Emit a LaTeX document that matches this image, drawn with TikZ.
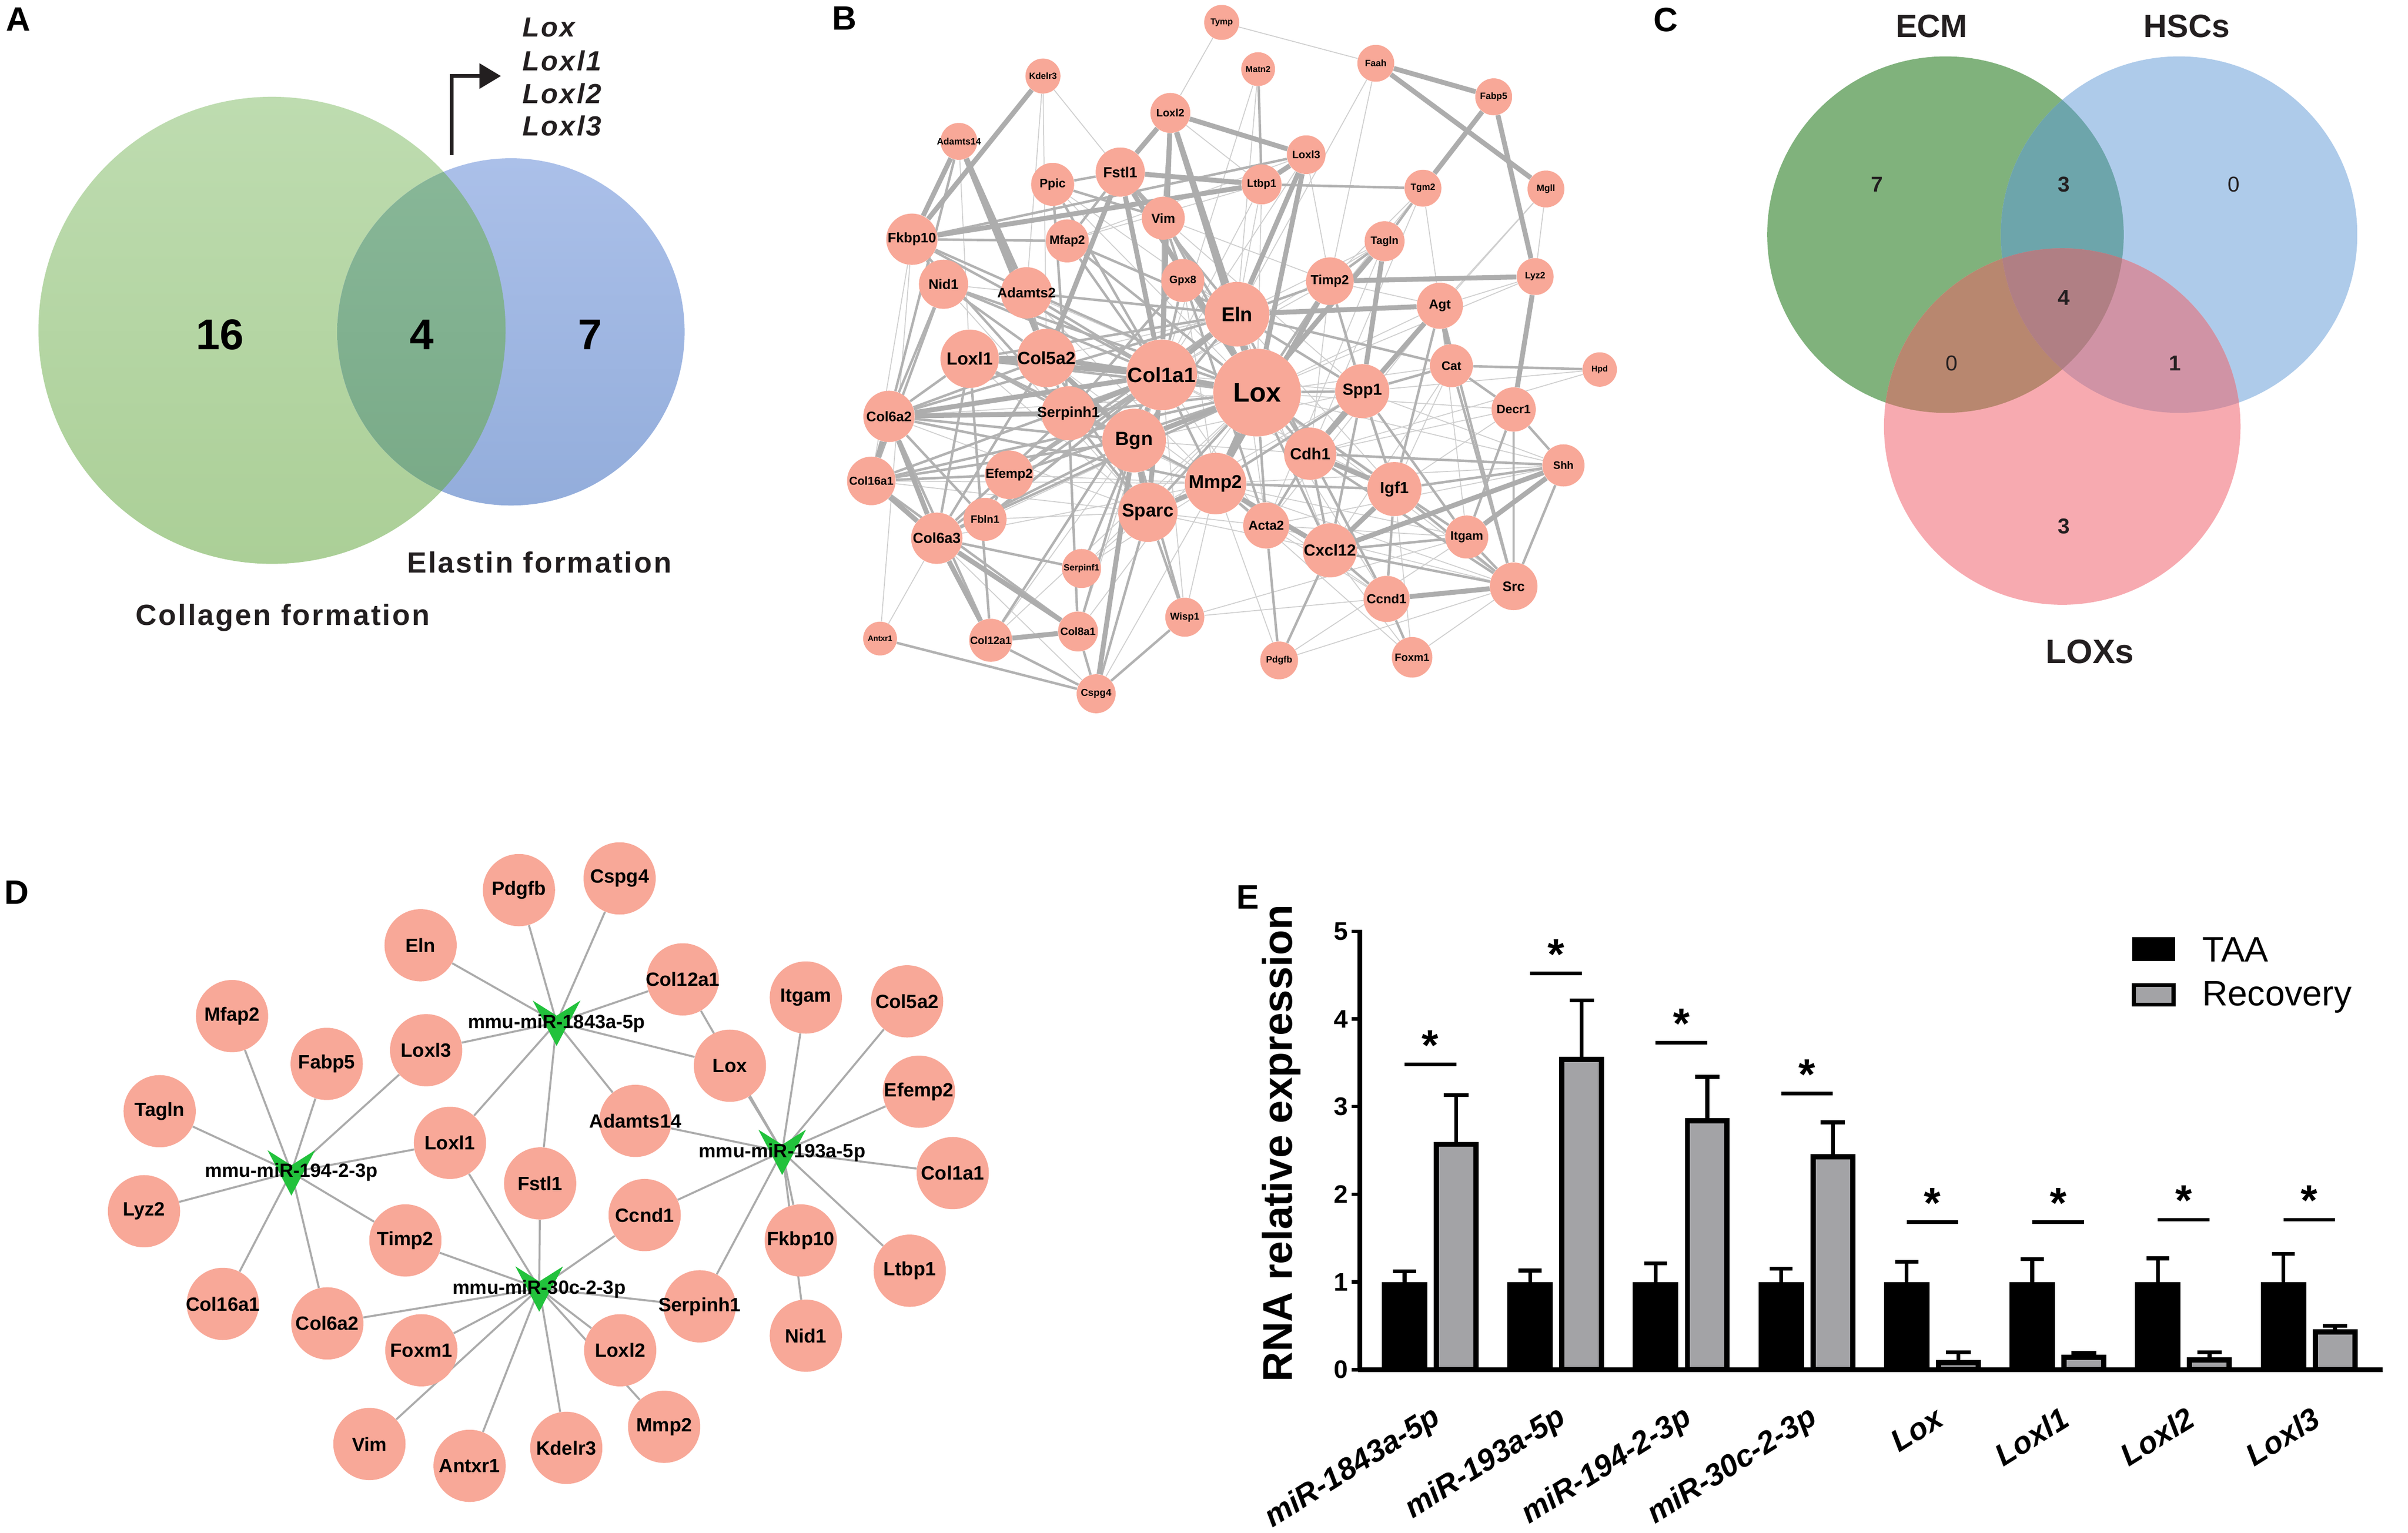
\documentclass[tikz,border=0pt]{standalone}
\usepackage{fontspec}
\setmainfont{Liberation Sans}
\newfontfamily\spacedsans[LetterSpace=6]{Liberation Sans}
\usetikzlibrary{arrows.meta,calc}
\pgfdeclarelayer{back}
\pgfdeclarelayer{bg}
\pgfsetlayers{back,bg,main}
\definecolor{nodefill}{HTML}{F8A898}
\definecolor{hubgreen}{HTML}{22C23C}
\definecolor{dline}{HTML}{ABABAB}
\definecolor{recgray}{HTML}{A3A3A6}
\definecolor{aGreenT}{HTML}{BEDCB0}
\definecolor{aGreenB}{HTML}{ABCF97}
\definecolor{aBlueT}{HTML}{ABC0E9}
\definecolor{aBlueB}{HTML}{93ADDB}
\definecolor{aOvT}{HTML}{88B798}
\definecolor{aOvB}{HTML}{79AA87}
\definecolor{arrowdark}{HTML}{231F20}
\definecolor{cGreen}{HTML}{80B27C}
\definecolor{cBlue}{HTML}{AECBEA}
\definecolor{cRed}{HTML}{F7AAB0}
\definecolor{cGB}{HTML}{6DA5AB}
\definecolor{cGR}{HTML}{B8876F}
\definecolor{cBR}{HTML}{D093A5}
\definecolor{cAll}{HTML}{B07F84}
\definecolor{ctext}{HTML}{231F20}
\tikzset{
  panellab/.style={font=\bfseries\fontsize{22}{22}\selectfont},
  bnode/.style={circle, fill=nodefill, inner sep=0pt, font=\bfseries},
  dnode/.style={circle, fill=nodefill, minimum size=47pt, inner sep=0pt, font=\bfseries\fontsize{12.5}{12.5}\selectfont},
  hublab/.style={font=\bfseries\fontsize{12.5}{12.5}\selectfont, inner sep=0pt},
  dedge/.style={draw=dline, line width=1.3pt},
  ethin/.style={draw=gray!38, line width=0.6pt},
  emed/.style={draw=gray!60, line width=1.6pt},
  ethick/.style={draw=gray!64, line width=3.2pt},
  ebar/.style={line width=2.5pt, draw=black},
  ast/.style={font=\bfseries\fontsize{28}{28}\selectfont, anchor=base, inner sep=0pt},
  cnum/.style={font=\fontsize{14}{14}\selectfont, text=ctext},
  cnumb/.style={font=\bfseries\fontsize{14}{14}\selectfont, text=ctext},
  clab/.style={font=\bfseries\fontsize{21}{21}\selectfont, text=ctext},
}
\begin{document}
\begin{tikzpicture}[x=1pt,y=-1pt]
\useasboundingbox (0,0) rectangle (1567,997.4);
\begin{pgfonlayer}{back}
\fill[white] (0,0) rectangle (1567,997.4);
\end{pgfonlayer}

% ================= Panel A =================
\node[panellab] (labA) at (12,12.5) {A};
\shade[top color=aGreenT, bottom color=aGreenB] (177,215) circle[radius=152pt];
\shade[top color=aBlueT, bottom color=aBlueB] (332.5,216) circle[radius=113pt];
\begin{scope}
  \clip (177,215) circle[radius=152pt];
  \shade[top color=aOvT, bottom color=aOvB] (332.5,216) circle[radius=113pt];
\end{scope}
\node[font=\bfseries\fontsize{28}{28}\selectfont] (n16) at (143,218) {16};
\node[font=\bfseries\fontsize{28}{28}\selectfont] (n4) at (274.5,218) {4};
\node[font=\bfseries\fontsize{28}{28}\selectfont] (n7) at (384,218) {7};
\coordinate (arrS) at (294,101);
\coordinate (arrE) at (326,49.5);
\draw[line width=2.5pt, draw=arrowdark, -{Triangle[length=14pt,width=16pt]}] (arrS) |- (arrE);
\foreach \g/\yy in {Lox/18, Loxl1/39.5, Loxl2/61, Loxl3/82}{
  \node[anchor=west, inner sep=0pt, text=ctext, font=\spacedsans\bfseries\itshape\fontsize{18}{18}\selectfont] (A\g) at (340,\yy) {\g};
}
\node[text=ctext, font=\spacedsans\bfseries\fontsize{19}{19}\selectfont] (elast) at (351,366) {Elastin formation};
\node[text=ctext, font=\spacedsans\bfseries\fontsize{19}{19}\selectfont] (coll) at (184,402) {Collagen formation};

% ================= Panel B =================
\node[panellab] (labB) at (549.5,12) {B};
\foreach \n/\x/\y/\r/\f in {
Tymp/795/14.6/11.4/5.6,
Kdelr3/678.7/49.5/11.4/5.8,
Matn2/818.7/45/11/5.6,
Faah/895.3/41.2/12/6,
Fabp5/972/63/12/6,
Loxl2/761.6/73.5/13/7,
Adamts14/624/92/12/6,
Loxl3/850/100.7/12.6/7,
Fstl1/729/112/16/9.5,
Ppic/685/120/14/8,
Ltbp1/821/120/13/7,
Tgm2/926/122.5/12/6,
Mgll/1006/123/12/6,
Vim/757/142/14/8.5,
Fkbp10/593.4/155.7/16.7/9,
Mfap2/694.5/156.8/14/8,
Tagln/901/157/13/7,
Lyz2/999/180/12/6,
Gpx8/769.7/182.6/14/7,
Timp2/865.4/183/15.5/8.5,
Nid1/614/185/16/9,
Adamts2/668/190.6/16.7/9,
Agt/937/199/15/8.5,
Eln/805/204.5/21/13,
Loxl1/631/233.5/19/11.5,
Col5a2/681/233/19/11.5,
Cat/944.5/238/14/8,
Hpd/1041/240.5/11.2/5.5,
Col1a1/756/244/23/13.5,
Lox/818/255.5/28.5/17.5,
Spp1/886.5/254.6/17.6/10.5,
Decr1/985/266.5/14.4/8,
Col6a2/578.5/271/16.7/9,
Serpinh1/695.3/269/17.6/9.5,
Bgn/738/286.7/20.7/12.5,
Cdh1/852.6/295.3/17/10.5,
Shh/1017.4/302.9/13.7/7,
Col16a1/567/313/15.8/7.5,
Efemp2/656.7/309/15.8/8.5,
Mmp2/791/314.7/20/12,
Igf1/907.4/318.3/17.6/10.5,
Sparc/747/333.4/19.3/12,
Fbln1/641/338/14/7,
Acta2/824/342/15/8.5,
Itgam/954.5/349.5/14/8,
Col6a3/609.6/350.3/16.7/9.5,
Cxcl12/865.4/358.2/17.6/10.5,
Serpinf1/703.8/370/12.7/5.8,
Src/985/381.6/15.5/9,
Ccnd1/902.3/389.8/15/8.5,
Wisp1/771/401.7/12.7/6.5,
Col8a1/701.5/411/13/7,
Antxr1/572.7/415.6/11/5,
Col12a1/644.7/416.7/14/7,
Foxm1/918.9/427.8/13.2/7,
Pdgfb/832.4/429.8/12.3/6,
Cspg4/713.3/451.5/12.7/6.5}{
  \node[bnode, minimum size=\r*2pt] (B\n) at (\x,\y) {\fontsize{\f}{\f}\selectfont\makebox[0pt]{\n}};
}
\begin{pgfonlayer}{bg}
\foreach \a/\b in {Tymp/Loxl2, Tymp/Faah, Kdelr3/Fstl1, Kdelr3/Col5a2, Matn2/Eln, Matn2/Col1a1, Faah/Timp2, Mgll/Lyz2, Mgll/Agt, Mgll/Cdh1, Hpd/Cdh1, Hpd/Spp1, Antxr1/Col6a3, Antxr1/Fkbp10, Wisp1/Mmp2, Wisp1/Itgam, Wisp1/Col1a1, Wisp1/Src, Fkbp10/Col16a1, Pdgfb/Mmp2, Pdgfb/Itgam, Pdgfb/Src, Foxm1/Src, Foxm1/Cxcl12, Foxm1/Igf1, Foxm1/Mmp2, Tgm2/Timp2, Tgm2/Lox, Tgm2/Agt, Tgm2/Cdh1, Lyz2/Agt, Lyz2/Lox, Shh/Acta2, Shh/Mmp2, Shh/Spp1, Src/Mmp2, Src/Acta2, Itgam/Acta2, Ccnd1/Mmp2, Ccnd1/Acta2, Ccnd1/Lox, Decr1/Lox, Decr1/Cdh1, Decr1/Igf1, Cat/Lox, Cat/Igf1, Cat/Cxcl12, Agt/Lox, Agt/Spp1, Agt/Timp2, Agt/Itgam, Agt/Acta2, Timp2/Col1a1, Timp2/Cdh1, Timp2/Igf1, Tagln/Eln, Tagln/Acta2, Tagln/Col1a1, Loxl3/Col1a1, Loxl3/Timp2, Ltbp1/Col1a1, Ltbp1/Eln, Ltbp1/Lox, Ltbp1/Loxl2, Faah/Eln, Col8a1/Col1a1, Col8a1/Lox, Serpinf1/Lox, Serpinf1/Sparc, Serpinf1/Mmp2, Col12a1/Lox, Col12a1/Bgn, Cspg4/Mmp2, Cspg4/Col6a3, Vim/Spp1, Vim/Timp2, Gpx8/Eln, Gpx8/Mmp2, Ppic/Lox, Ppic/Eln, Mfap2/Ltbp1, Mfap2/Loxl3, Nid1/Eln, Nid1/Sparc, Adamts2/Lox, Adamts2/Mmp2, Efemp2/Mmp2, Fbln1/Lox, Fbln1/Sparc, Col6a3/Mmp2, Col16a1/Sparc, Col16a1/Mmp2, Col6a2/Lox, Col6a2/Sparc, Loxl1/Mmp2, Loxl1/Sparc, Col5a2/Mmp2, Col5a2/Eln, Serpinh1/Lox, Serpinh1/Mmp2, Bgn/Spp1, Bgn/Cdh1, Sparc/Spp1, Sparc/Acta2, Sparc/Cxcl12, Mmp2/Itgam, Eln/Igf1, Eln/Cxcl12, Eln/Acta2, Lox/Itgam, Lox/Src, Lox/Shh, Col1a1/Cdh1, Col1a1/Spp1, Col1a1/Acta2, Col1a1/Igf1, Kdelr3/Adamts2, Adamts14/Loxl1}{
  \draw[ethin] (B\a) -- (B\b);
}
\foreach \a/\b in {Matn2/Ltbp1, Ltbp1/Tgm2, Tgm2/Tagln, Tagln/Timp2, Timp2/Eln, Timp2/Lox, Cat/Decr1, Agt/Igf1, Agt/Src, Decr1/Shh, Shh/Src, Src/Itgam, Src/Igf1, Src/Cxcl12, Ccnd1/Cxcl12, Ccnd1/Foxm1, Ccnd1/Igf1, Pdgfb/Cxcl12, Pdgfb/Acta2, Acta2/Mmp2, Acta2/Lox, Wisp1/Sparc, Wisp1/Bgn, Wisp1/Cspg4, Cspg4/Col8a1, Cspg4/Col12a1, Cspg4/Sparc, Antxr1/Cspg4, Col8a1/Serpinh1, Col8a1/Col16a1, Col8a1/Bgn, Col12a1/Col6a2, Col12a1/Loxl1, Col12a1/Col1a1, Serpinf1/Col1a1, Serpinf1/Col6a3, Fbln1/Eln, Fbln1/Col1a1, Fbln1/Col6a2, Efemp2/Eln, Efemp2/Col1a1, Efemp2/Lox, Efemp2/Fbln1, Efemp2/Col16a1, Nid1/Col1a1, Nid1/Col6a2, Nid1/Col16a1, Nid1/Lox, Nid1/Col5a2, Adamts2/Col1a1, Adamts2/Col5a2, Adamts2/Eln, Adamts14/Col6a2, Fkbp10/Col1a1, Fkbp10/Serpinh1, Fkbp10/Nid1, Fkbp10/Lox, Fkbp10/Mfap2, Fkbp10/Loxl3, Mfap2/Eln, Mfap2/Fstl1, Mfap2/Lox, Mfap2/Col1a1, Ppic/Col1a1, Ppic/Fstl1, Ppic/Serpinh1, Ppic/Vim, Vim/Lox, Vim/Col1a1, Vim/Acta2, Vim/Cdh1, Vim/Loxl2, Gpx8/Col1a1, Gpx8/Lox, Gpx8/Serpinh1, Eln/Bgn, Eln/Spp1, Eln/Cdh1, Lox/Spp1, Lox/Cdh1, Lox/Igf1, Lox/Cxcl12, Lox/Col16a1, Lox/Col6a3, Lox/Serpinh1, Lox/Sparc, Spp1/Igf1, Spp1/Cxcl12, Spp1/Mmp2, Spp1/Timp2, Spp1/Itgam, Spp1/Cat, Cdh1/Cxcl12, Cdh1/Acta2, Cdh1/Src, Cdh1/Shh, Cdh1/Ccnd1, Igf1/Mmp2, Igf1/Itgam, Igf1/Shh, Mmp2/Col6a2, Mmp2/Col1a1, Mmp2/Bgn, Cat/Eln, Cat/Src, Decr1/Itgam, Decr1/Src, Hpd/Cat, Col6a3/Bgn, Col6a3/Col1a1, Col6a3/Serpinh1, Col16a1/Col1a1, Col16a1/Bgn, Col6a2/Bgn, Col6a2/Eln, Col6a2/Col5a2, Loxl1/Eln, Loxl1/Lox, Loxl1/Bgn, Loxl1/Serpinh1, Loxl1/Col6a2, Loxl1/Col6a3, Col5a2/Serpinh1, Col5a2/Col6a3, Col5a2/Sparc, Col5a2/Lox, Serpinh1/Bgn, Serpinh1/Sparc, Fstl1/Eln, Fstl1/Vim, Itgam/Cxcl12}{
  \draw[emed] (B\a) -- (B\b);
}
\foreach \a/\b in {Kdelr3/Fkbp10, Adamts14/Adamts2, Adamts14/Col5a2, Adamts14/Fkbp10, Loxl2/Loxl3, Loxl2/Fstl1, Loxl2/Eln, Loxl2/Lox, Loxl2/Col1a1, Fstl1/Ltbp1, Fkbp10/Ltbp1, Loxl3/Ltbp1, Loxl3/Lox, Loxl3/Eln, Faah/Fabp5, Faah/Mgll, Fabp5/Tgm2, Fabp5/Lyz2, Timp2/Lyz2, Lyz2/Decr1, Agt/Eln, Agt/Cat, Agt/Cdh1, Tagln/Spp1, Tagln/Lox, Col12a1/Col8a1, Col12a1/Col6a3, Col8a1/Col6a3, Col16a1/Col6a3, Col6a2/Col16a1, Cspg4/Bgn, Src/Ccnd1, Shh/Itgam, Shh/Cxcl12, Col1a1/Col5a2, Col1a1/Lox, Col1a1/Bgn, Col1a1/Sparc, Col1a1/Serpinh1, Col1a1/Loxl1, Col1a1/Col6a2, Col1a1/Eln, Lox/Eln, Lox/Mmp2, Lox/Bgn, Col5a2/Loxl1, Col6a2/Col6a3, Col5a2/Bgn, Col6a2/Serpinh1, Sparc/Bgn, Sparc/Mmp2, Mmp2/Timp2, Spp1/Cdh1, Igf1/Cdh1, Cxcl12/Igf1, Mmp2/Cxcl12, Fstl1/Col1a1, Fstl1/Col5a2, Fstl1/Lox}{
  \draw[ethick] (B\a) -- (B\b);
}
\end{pgfonlayer}

% ================= Panel C =================
\node[panellab] (labC) at (1084,13) {C};
\fill[cGreen] (1266,152.7) circle[radius=116pt];
\fill[cBlue] (1418,152.7) circle[radius=116pt];
\fill[cRed] (1342,277.6) circle[radius=116pt];
\begin{scope}
  \clip (1266,152.7) circle[radius=116pt];
  \fill[cGB] (1418,152.7) circle[radius=116pt];
\end{scope}
\begin{scope}
  \clip (1266,152.7) circle[radius=116pt];
  \fill[cGR] (1342,277.6) circle[radius=116pt];
\end{scope}
\begin{scope}
  \clip (1418,152.7) circle[radius=116pt];
  \fill[cBR] (1342,277.6) circle[radius=116pt];
\end{scope}
\begin{scope}
  \clip (1266,152.7) circle[radius=116pt];
  \clip (1418,152.7) circle[radius=116pt];
  \fill[cAll] (1342,277.6) circle[radius=116pt];
\end{scope}
\node[clab] (cECM) at (1257,17) {ECM};
\node[clab] (cHSC) at (1423,17) {HSCs};
\node[clab, font=\bfseries\fontsize{22}{22}\selectfont] (cLOX) at (1360,424) {LOXs};
\node[cnumb] (c7) at (1221.5,120) {7};
\node[cnumb] (c3a) at (1343,120) {3};
\node[cnum] (c0a) at (1453.7,120) {0};
\node[cnumb] (c4) at (1343,193.6) {4};
\node[cnum] (c0b) at (1270,236.4) {0};
\node[cnumb] (c1) at (1415.3,236.4) {1};
\node[cnumb] (c3b) at (1343,342.6) {3};

% ================= Panel D =================
\node[panellab] (labD) at (11,581) {D};
\coordinate (H194) at (189.6,762.9);
\coordinate (H1843) at (362.2,665.5);
\coordinate (H30) at (350.9,838.5);
\coordinate (H193) at (509,749.5);
\foreach \n/\x/\y in {Pdgfb/337.7/579.3, Cspg4/403.2/571.7, Eln/273.7/615.2, Col12a1/444.3/637.4, Itgam/524.4/649.2, Col5a2/590.3/651.7, Mfap2/151/661.3, Loxl3/277.3/683.5, Fabp5/212.6/692.4, Lox/475/693.6, Efemp2/598/710.5, Tagln/103.9/723.2, Adamts14/413.5/729.5, Loxl1/292.8/743.8, Col1a1/620/763.5, Fstl1/351.5/770.2, Lyz2/93.7/788.3, Ccnd1/419.5/790.8, Timp2/263.8/807.3, Fkbp10/521.1/807.3, Ltbp1/592/827, Col16a1/145/848.6, Serpinh1/455.3/850.2, Col6a2/213/861.3, Nid1/524.4/869.3, Foxm1/274.2/878.8, Loxl2/403.6/878.8, Mmp2/432.2/928.6, Vim/240.4/939.8, Kdelr3/368.5/942.3, Antxr1/305.6/954}{
  \node[dnode] (D\n) at (\x,\y) {\makebox[0pt]{\n}};
}
\begin{pgfonlayer}{bg}
\foreach \h/\g in {H194/Mfap2, H194/Fabp5, H194/Tagln, H194/Lyz2, H194/Col16a1, H194/Col6a2, H194/Timp2, H194/Loxl1, H194/Loxl3,
  H1843/Eln, H1843/Pdgfb, H1843/Cspg4, H1843/Col12a1, H1843/Lox, H1843/Adamts14, H1843/Fstl1, H1843/Loxl1, H1843/Loxl3,
  H30/Loxl1, H30/Fstl1, H30/Timp2, H30/Col6a2, H30/Foxm1, H30/Vim, H30/Antxr1, H30/Kdelr3, H30/Loxl2, H30/Mmp2, H30/Ccnd1, H30/Serpinh1,
  H193/Lox, H193/Col12a1, H193/Itgam, H193/Col5a2, H193/Efemp2, H193/Col1a1, H193/Ltbp1, H193/Fkbp10, H193/Nid1, H193/Serpinh1, H193/Ccnd1, H193/Adamts14}{
  \draw[dedge] (\h) -- (D\g);
}
\end{pgfonlayer}
\foreach \h in {H194,H1843,H30,H193}{
  \fill[hubgreen] (\h) ++(-15.5,-14.3) -- ++(15.5,9.8) -- ++(15.5,-9.8) -- ++(-15.5,29.5) -- cycle;
}
\node[hublab] (L194) at (189.6,763) {mmu-miR-194-2-3p};
\node[hublab] (L1843) at (362.2,666) {mmu-miR-1843a-5p};
\node[hublab] (L30) at (350.9,839) {mmu-miR-30c-2-3p};
\node[hublab] (L193) at (509,750) {mmu-miR-193a-5p};

% ================= Panel E =================
\node[panellab] (labE) at (812,584) {E};
\node[rotate=90, font=\bfseries\fontsize{27}{27}\selectfont] (ylab) at (834,744) {RNA relative expression};
\begin{scope}[shift={(0,891.4)}, y=57.06pt]
  \draw[line width=2.8pt] (884.9,-0.02) -- (884.9,5.02);
  \draw[line width=3pt] (883.6,0) -- (1550.5,0);
  \foreach \t in {0,...,5}{
    \draw[line width=2.2pt] (879.5,\t) -- (884.9,\t);
    \node[anchor=east, inner sep=0pt, font=\bfseries\fontsize{16.5}{16.5}\selectfont] (tick\t) at (877.5,\t) {\t};
  }
  \foreach \i/\rv/\te/\re/\sl in {0/2.57/1.12/3.13/3.48, 1/3.54/1.13/4.21/4.52, 2/2.84/1.21/3.34/3.73, 3/2.43/1.15/2.82/3.15, 4/0.08/1.23/0.20/1.68, 5/0.14/1.26/0.19/1.68, 6/0.11/1.27/0.20/1.71, 7/0.43/1.32/0.50/1.71}{
    \pgfmathsetmacro{\cx}{914+\i*81.7}
    \pgfmathsetmacro{\rc}{\cx+33.6}
    \pgfmathsetmacro{\mc}{\cx+16.8}
    \fill[black] (\cx-14.8,0) rectangle (\cx+14.8,1);
    \draw[ebar] (\cx,1) -- (\cx,\te) (\cx-7.5,\te) -- (\cx+7.5,\te);
    \draw[ebar] (\rc,\rv) -- (\rc,\re) (\rc-8,\re) -- (\rc+8,\re);
    \filldraw[fill=recgray, draw=black, line width=3.4pt] (\rc-12.9,0) rectangle (\rc+12.9,\rv);
    \draw[line width=2.4pt] (\cx,\sl) -- (\rc,\sl);
    \node[ast] (ast\i) at (\mc,\sl+0.05) {*};
  }
\end{scope}
\foreach \i/\t in {0/miR-1843a-5p, 1/miR-193a-5p, 2/miR-194-2-3p, 3/miR-30c-2-3p, 4/Lox, 5/Loxl1, 6/Loxl2, 7/Loxl3}{
  \pgfmathsetmacro{\gc}{935.8+\i*81.7}
  \node[rotate=32, anchor=east, inner sep=0pt, font=\bfseries\itshape\fontsize{20}{20}\selectfont] (xl\i) at (\gc,921) {\t};
}
\fill[black] (1387.4,610) rectangle (1415.6,625.3);
\filldraw[fill=recgray, draw=black, line width=2.5pt] (1388.6,641.2) rectangle (1414.4,653.8);
\node[anchor=west, inner sep=0pt, font=\fontsize{23}{23}\selectfont] (legTAA) at (1433,618) {TAA};
\node[anchor=west, inner sep=0pt, font=\fontsize{23}{23}\selectfont] (legRec) at (1433,649) {Recovery};
\end{tikzpicture}
\end{document}
